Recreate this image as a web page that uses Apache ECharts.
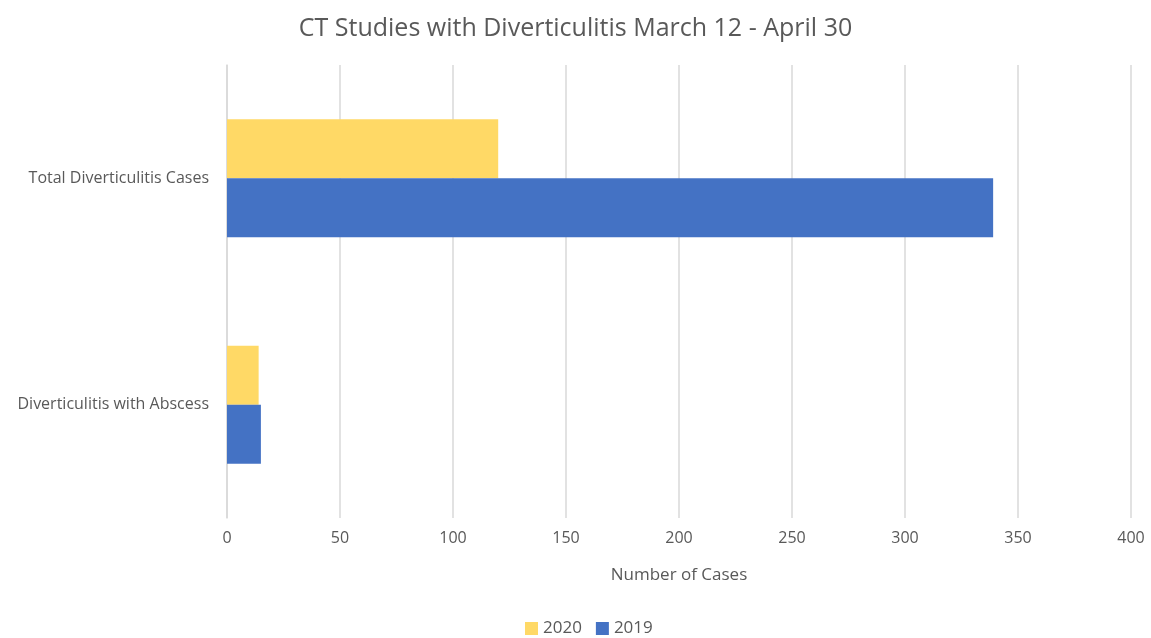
<!DOCTYPE html>
<html lang="en">
<head>
    <meta charset="utf-8">
    <title>CT Studies with Diverticulitis</title>
    <script src="https://cdn.jsdelivr.net/npm/echarts@6/dist/echarts.min.js"></script>
</head>
<body style="margin:0;background:#fff;">
<div id="main" style="width:1151px;height:638px;"></div>
<script type="text/javascript">
    // categories bottom -> top, like Excel
    var categories = ['Diverticulitis with Abscess', 'Total Diverticulitis Cases'];
    var values2020 = [14, 120];
    var values2019 = [15, 339];
    var xTicks = [0, 50, 100, 150, 200, 250, 300, 350, 400];

    var gray = '#595959';
    var font = 'Open Sans, Liberation Sans, sans-serif';

    var myChart = echarts.init(document.getElementById('main'));
    var option = {
        textStyle: { fontFamily: font },
        title: {
            text: 'CT Studies with Diverticulitis March 12 - April 30',
            left: 'center',
            top: 11,
            textStyle: { color: gray, fontSize: 25, fontWeight: 'normal', fontFamily: font }
        },
        legend: {
            data: ['2020', '2019'],
            bottom: -4,
            left: 520,
            itemWidth: 13,
            itemHeight: 13,
            itemGap: 14,
            icon: 'rect',
            textStyle: { color: gray, fontSize: 17, padding: [0, 0, 0, 0] }
        },
        grid: {
            left: 227,
            right: 20,
            top: 65,
            bottom: 120
        },
        xAxis: {
            type: 'value',
            min: xTicks[0],
            max: xTicks[xTicks.length - 1],
            interval: 50,
            name: 'Number of Cases',
            nameLocation: 'middle',
            nameGap: 49,
            nameTextStyle: { color: gray, fontSize: 17 },
            axisLine: { show: false },
            axisTick: { show: false },
            axisLabel: { color: gray, fontSize: 16, margin: 12 },
            splitLine: { lineStyle: { color: '#d9d9d9', width: 1.5 } }
        },
        yAxis: {
            type: 'category',
            data: categories,
            axisLine: { lineStyle: { color: '#d9d9d9', width: 1.5 } },
            axisTick: { show: false },
            axisLabel: { color: gray, fontSize: 16, margin: 18 }
        },
        series: [{
            name: '2020',
            type: 'bar',
            data: values2020,
            barGap: '0%',
            barCategoryGap: '48%',
            itemStyle: { color: '#FFD966' }
        }, {
            name: '2019',
            type: 'bar',
            data: values2019,
            barGap: '0%',
            barCategoryGap: '48%',
            itemStyle: { color: '#4472C4' }
        }]
    };
    myChart.setOption(option);
</script>
</body>
</html>
